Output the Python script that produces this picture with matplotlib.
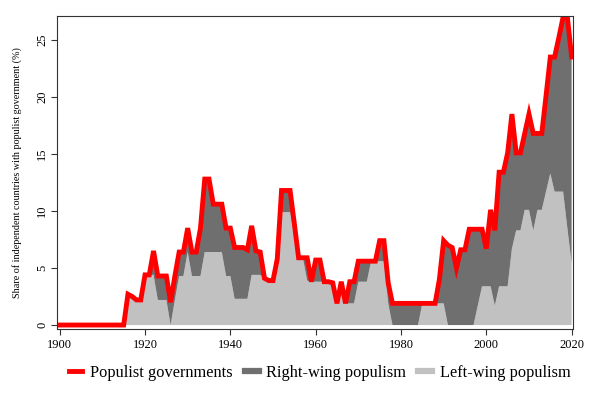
import matplotlib
matplotlib.use("Agg")
import matplotlib.pyplot as plt
import numpy as np

plt.rcParams['font.family'] = ['Liberation Serif', 'DejaVu Serif']

years = list(range(1900, 2021))

# share of independent countries with a populist government (%), by year
total = ([0.0] * 16 +
         [2.7, 2.5, 2.2, 2.2, 4.4, 4.4, 6.5, 4.3, 4.3, 4.3,     # 1916-1925
          2.0, 4.3, 6.4, 6.4, 8.5, 6.4, 6.4, 8.5, 12.8, 12.8,   # 1926-1935
          10.6, 10.6, 10.6, 8.5, 8.5, 6.8, 6.8, 6.8, 6.6, 8.7,  # 1936-1945
          6.5, 6.4, 4.1, 3.9, 3.9, 5.8, 11.8, 11.8, 11.8, 8.9,  # 1946-1955
          5.9, 5.9, 5.9, 3.8, 5.7, 5.7, 3.8, 3.8, 3.7, 1.9,     # 1956-1965
          3.8, 1.9, 3.8, 3.8, 5.6, 5.6, 5.6, 5.6, 5.6, 7.4,     # 1966-1975
          7.4, 3.7, 1.9, 1.9, 1.9, 1.9, 1.9, 1.9, 1.9, 1.9,     # 1976-1985
          1.9, 1.9, 1.9, 4.0, 7.4, 7.0, 6.8, 5.0, 6.6, 6.6,     # 1986-1995
          8.4, 8.4, 8.4, 8.4, 6.7, 10.1, 8.3, 13.4, 13.4, 15.1,  # 1996-2005
          18.5, 15.1, 15.1, 16.8, 18.5, 16.8, 16.8, 16.8, 20.1, 23.5,  # 2006-2015
          23.5, 25.2, 27.0, 27.0, 23.5])                       # 2016-2020

left_wing = ([0.0] * 16 +
             [2.7, 2.5, 2.2, 2.2, 4.4, 4.4, 4.4, 2.2, 2.2, 2.2,
              0.0, 2.2, 4.3, 4.3, 6.4, 4.3, 4.3, 4.3, 6.4, 6.4,
              6.4, 6.4, 6.4, 4.3, 4.3, 2.3, 2.3, 2.3, 2.3, 4.4,
              4.4, 4.4, 4.1, 3.9, 3.9, 5.8, 9.9, 9.9, 9.9, 7.8,
              5.9, 5.9, 3.9, 3.8, 3.8, 3.8, 3.8, 3.8, 3.7, 1.9,
              3.8, 1.9, 1.9, 1.9, 3.8, 3.8, 3.8, 5.6, 5.6, 5.6,
              5.6, 1.9, 0.0, 0.0, 0.0, 0.0, 0.0, 0.0, 0.0, 1.9,
              1.9, 1.9, 1.9, 1.9, 1.9, 0.0, 0.0, 0.0, 0.0, 0.0,
              0.0, 0.0, 1.7, 3.4, 3.4, 3.4, 1.7, 3.4, 3.4, 3.4,
              6.7, 8.3, 8.3, 10.1, 10.1, 8.3, 10.1, 10.1, 11.7, 13.3,
              11.7, 11.7, 11.7, 8.5, 5.4])

right_wing = [round(t - l, 2) for t, l in zip(total, left_wing)]

fig = plt.figure(figsize=(6, 3.95), dpi=100)
ax = fig.add_axes([0.0945, 0.167, 0.86, 0.7925])

ax.stackplot(years, left_wing, right_wing,
             colors=['#c1c1c1', '#6f6f6f'], linewidth=0)
ax.plot(years, total, color='#ff0000', linewidth=3.5, solid_joinstyle='miter')

ax.set_xlim(1899.3, 2020.25)
ax.set_ylim(-0.35, 27.1)
ax.set_xticks(range(1900, 2021, 20))
ax.set_yticks(range(0, 26, 5))
ax.tick_params(axis='both', labelsize=9, length=4, width=0.8, colors='#333333',
               labelcolor='black')
ax.tick_params(axis='y', pad=2)
plt.setp(ax.get_yticklabels(), rotation=90, va='center')
ax.set_ylabel('Share of independent countries with populist government (%)',
              fontsize=7.3)
ax.yaxis.set_label_coords(-0.067, 0.5)
for s in ax.spines.values():
    s.set_linewidth(0.8)
    s.set_color('#333333')

handles = [plt.Line2D([], [], color='#ff0000', linewidth=3.5),
           plt.Line2D([], [], color='#6f6f6f', linewidth=4.5),
           plt.Line2D([], [], color='#c1c1c1', linewidth=4.5)]
fig.legend(handles, ['Populist governments', 'Right-wing populism', 'Left-wing populism'],
           loc='center', bbox_to_anchor=(0.5325, 0.0565), ncol=3, frameon=False,
           fontsize=11.8, handlelength=0.85, handletextpad=0.45, columnspacing=0.75)

fig.savefig('out.png', dpi=100)
